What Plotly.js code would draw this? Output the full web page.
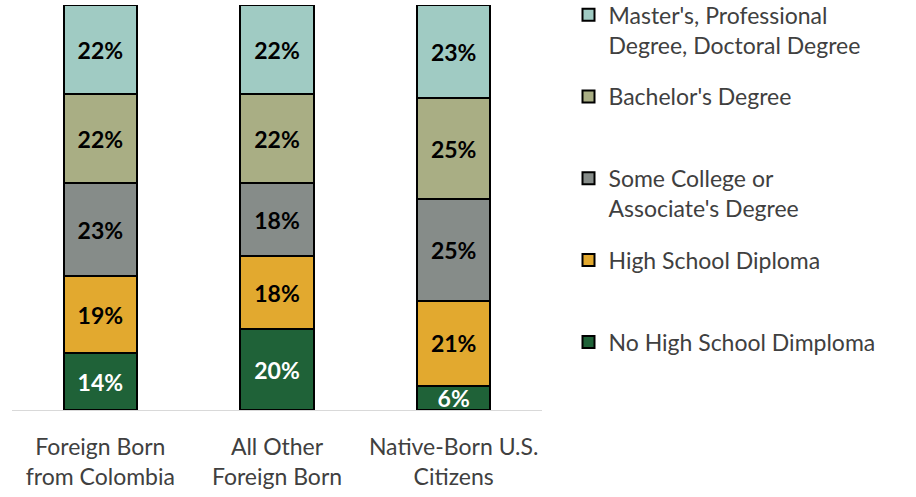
<!DOCTYPE html>
<html>
<head>
<meta charset="utf-8">
<script src="https://cdn.plot.ly/plotly-3.0.1.min.js"></script>
<style>
  html, body { margin: 0; padding: 0; background: #fff; }
  #chart { width: 916px; height: 497px; }
</style>
</head>
<body>
<div id="chart"></div>
<script>
var groups = ['Foreign Born<br>from Colombia', 'All Other<br>Foreign Born', 'Native-Born U.S.<br>Citizens'];

var noHighSchool = [14, 20, 6];
var highSchool = [19, 18, 21];
var someCollege = [23, 18, 25];
var bachelors = [22, 22, 25];
var masters = [22, 22, 23];

var seriesNames = [
  'No High School Dimploma',
  'High School Diploma<br>&nbsp;',
  'Some College or<br>Associate\'s Degree',
  'Bachelor\'s Degree<br>&nbsp;',
  'Master\'s, Professional<br>Degree, Doctoral Degree'
];
var seriesValues = [noHighSchool, highSchool, someCollege, bachelors, masters];
var seriesColors = ['#1f6238', '#e2a92f', '#868c89', '#a9ae84', '#a0cbc3'];
var labelColors = ['#ffffff', '#000000', '#000000', '#000000', '#000000'];

var font = 'Lato, "Open Sans", sans-serif';

var data = seriesValues.map(function (vals, i) {
  return {
    type: 'bar',
    name: seriesNames[i],
    x: groups,
    y: vals,
    legendgroup: 'g' + i,
    legendrank: 5 - i,
    marker: { color: seriesColors[i], line: { color: '#000000', width: 2 } },
    text: vals.map(function (v) { return v + '%'; }),
    textposition: 'inside',
    insidetextanchor: 'middle',
    constraintext: 'none',
    textfont: { family: font, size: 23, color: labelColors[i], weight: 'bold' },
    hoverinfo: 'none'
  };
});

var layout = {
  barmode: 'stack',
  bargap: 0.585,
  width: 916,
  height: 497,
  margin: { l: 12, r: 374, t: 5, b: 87, autoexpand: false },
  paper_bgcolor: '#ffffff',
  plot_bgcolor: '#ffffff',
  font: { family: font, size: 23, color: '#404040' },
  showlegend: true,
  legend: {
    x: 1.05, xanchor: 'left',
    y: 1.029, yanchor: 'top',
    traceorder: 'grouped',
    tracegroupgap: 19,
    valign: 'top',
    maxheight: 520,
    font: { family: font, size: 23, color: '#404040' }
  },
  xaxis: {
    showline: true, linecolor: '#d9d9d9', linewidth: 1,
    ticks: '', showgrid: false, zeroline: false,
    ticklabelstandoff: 16,
    tickfont: { family: font, size: 23, color: '#404040' }
  },
  yaxis: {
    range: [0, 100], visible: false, showgrid: false, zeroline: false
  }
};

Plotly.newPlot('chart', data, layout, { displayModeBar: false, staticPlot: true });
</script>
</body>
</html>
